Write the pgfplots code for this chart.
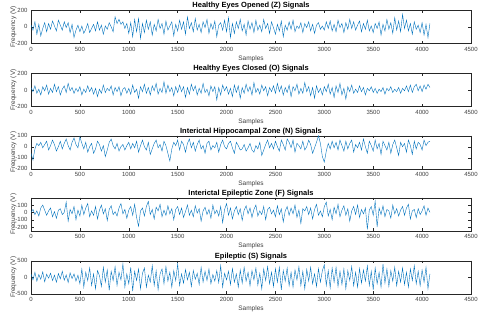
\documentclass[border=0pt]{standalone}
\usepackage{pgfplots}
\pgfplotsset{compat=1.18}
\usepackage{pgfplotstable}
\usepackage{fontspec}
\setmainfont{Liberation Sans}
\definecolor{mblue}{RGB}{0,114,189}
\definecolor{axgray}{RGB}{38,38,38}

\pgfplotstableread[row sep=\\,header=false]{
20\\-40\\60\\-90\\30\\-110\\-20\\50\\-60\\40\\-30\\70\\10\\-50\\80\\20\\-40\\60\\-10\\50\\-70\\30\\-130\\-40\\20\\
-60\\10\\-80\\-30\\40\\-70\\-20\\30\\-50\\60\\-40\\20\\-90\\10\\-30\\50\\0\\-60\\120\\40\\90\\30\\60\\-20\\40\\
-80\\50\\-120\\90\\-60\\100\\-140\\40\\-70\\80\\-30\\60\\-100\\30\\-50\\90\\-20\\40\\-90\\70\\-40\\10\\60\\-110\\30\\
-50\\80\\-30\\60\\-90\\120\\-20\\50\\-60\\100\\-40\\30\\-70\\60\\-10\\90\\-80\\40\\-30\\70\\-120\\20\\50\\-40\\80\\
-60\\110\\-130\\40\\-80\\60\\-20\\90\\-50\\30\\-100\\70\\-30\\50\\-70\\80\\-40\\20\\-60\\90\\-20\\40\\-80\\60\\-10\\
-90\\30\\-50\\70\\-120\\20\\-40\\60\\-30\\80\\-60\\10\\-20\\50\\-70\\40\\-10\\60\\-50\\30\\-80\\20\\50\\-30\\10\\
-40\\60\\-20\\70\\-50\\30\\-60\\80\\-10\\40\\-70\\50\\-30\\90\\-20\\60\\-40\\20\\70\\-60\\40\\-30\\80\\-50\\10\\
-70\\40\\-20\\60\\-100\\30\\-50\\90\\-30\\50\\-80\\110\\-40\\70\\-60\\150\\-20\\80\\-50\\40\\-90\\60\\-30\\20\\-70\\
50\\-100\\30\\-130\\40\\
}\Zdata

\pgfplotstableread[row sep=\\,header=false]{
30\\-20\\50\\-40\\10\\-60\\40\\-10\\60\\-50\\20\\-30\\70\\-20\\40\\-60\\10\\50\\-30\\80\\-10\\30\\-40\\20\\-20\\
40\\-60\\10\\-30\\50\\-20\\30\\-50\\20\\-80\\10\\-40\\60\\-30\\20\\-10\\50\\-60\\30\\-20\\40\\-70\\10\\30\\-40\\
20\\-50\\60\\-30\\10\\-100\\40\\-20\\70\\-40\\30\\-60\\50\\-10\\80\\-50\\20\\-30\\100\\-40\\60\\-20\\30\\-70\\40\\
-30\\60\\-20\\40\\-90\\30\\-50\\70\\-10\\50\\-60\\20\\-40\\80\\-30\\10\\-70\\50\\-20\\40\\-120\\30\\-60\\60\\-10\\
40\\-50\\20\\-80\\60\\-30\\50\\-100\\30\\-40\\70\\-20\\40\\-60\\90\\-30\\20\\-50\\60\\-10\\40\\-70\\30\\-20\\50\\
-40\\80\\-20\\50\\-60\\30\\-30\\60\\-80\\40\\-10\\70\\-50\\20\\-40\\90\\-20\\40\\-70\\30\\-100\\50\\-30\\20\\-60\\
40\\-20\\70\\-50\\30\\-90\\50\\-30\\80\\-60\\20\\-110\\40\\-20\\60\\-40\\10\\-30\\50\\-20\\30\\-60\\20\\-10\\40\\
-30\\20\\-40\\10\\-20\\30\\-50\\20\\-10\\40\\-30\\10\\-20\\30\\-40\\20\\-10\\50\\-20\\60\\-30\\40\\70\\-10\\50\\
-20\\60\\10\\70\\30\\
}\Odata

\pgfplotstableread[row sep=\\,header=false]{
-60\\-120\\-20\\30\\10\\40\\-10\\20\\50\\-30\\10\\60\\20\\-40\\0\\50\\-20\\30\\70\\10\\-30\\40\\80\\20\\-10\\
90\\30\\-20\\40\\-50\\0\\30\\-60\\-20\\50\\20\\-40\\10\\-90\\-30\\40\\70\\10\\-20\\30\\-40\\0\\20\\-30\\10\\
40\\-20\\30\\-10\\50\\-50\\10\\60\\0\\-30\\40\\-70\\-20\\30\\60\\-10\\20\\-40\\50\\10\\-60\\-130\\-20\\40\\10\\
60\\-30\\50\\20\\-50\\30\\70\\-10\\40\\-40\\20\\60\\-20\\10\\-60\\30\\50\\-30\\10\\-10\\40\\-50\\20\\60\\0\\
-20\\30\\50\\-10\\-60\\40\\10\\-30\\-20\\20\\-40\\-10\\30\\-30\\-50\\10\\-20\\40\\-80\\-30\\20\\60\\-10\\30\\-20\\
50\\0\\-40\\60\\20\\-30\\70\\40\\-10\\60\\-50\\30\\10\\-20\\50\\-30\\0\\60\\20\\-60\\-10\\40\\100\\30\\-90\\
-140\\-40\\30\\-20\\50\\-10\\40\\-30\\60\\10\\-40\\50\\-20\\30\\60\\-50\\20\\-10\\40\\-30\\70\\0\\-60\\50\\10\\
-40\\60\\-20\\30\\-70\\50\\10\\-30\\40\\-60\\20\\60\\-10\\-80\\40\\0\\30\\-50\\60\\10\\-70\\50\\-20\\40\\20\\
-30\\60\\10\\40\\50\\
}\Ndata

\pgfplotstableread[row sep=\\,header=false]{
0\\40\\-30\\20\\-50\\60\\100\\30\\-40\\20\\60\\-60\\10\\-80\\30\\50\\-30\\0\\140\\-120\\40\\-20\\80\\-100\\30\\
-50\\100\\-30\\60\\120\\-60\\20\\-40\\80\\-90\\30\\100\\-20\\50\\-110\\40\\90\\-30\\10\\-50\\60\\120\\-20\\40\\-80\\
30\\80\\-40\\110\\-70\\-190\\20\\60\\-50\\80\\150\\-30\\40\\-90\\70\\20\\110\\-60\\30\\-40\\90\\-20\\50\\-100\\40\\
80\\-30\\60\\-70\\10\\100\\-40\\30\\-60\\90\\-10\\50\\-120\\20\\70\\-30\\40\\-80\\100\\-20\\30\\-50\\80\\-140\\40\\
120\\-40\\60\\-90\\20\\80\\-30\\50\\-110\\30\\90\\-20\\60\\-70\\40\\100\\-50\\20\\-30\\80\\-100\\40\\70\\-20\\30\\
-60\\90\\-30\\50\\-130\\20\\80\\-40\\60\\-20\\100\\-70\\30\\-150\\50\\20\\80\\-30\\60\\-90\\40\\110\\-40\\20\\-60\\
80\\140\\-50\\40\\-100\\70\\-20\\110\\-60\\30\\90\\-40\\50\\-120\\20\\80\\-30\\100\\-70\\40\\-20\\60\\-230\\30\\80\\
-40\\150\\-200\\60\\-30\\90\\-60\\40\\20\\-80\\100\\-20\\50\\-50\\30\\80\\-40\\60\\110\\-90\\20\\40\\-70\\50\\-30\\
20\\90\\-40\\60\\0\\
}\Fdata

\pgfplotstableread[row sep=\\,header=false]{
100\\-80\\150\\-120\\80\\-60\\160\\-140\\90\\-30\\120\\-100\\60\\-150\\110\\-50\\180\\-90\\70\\-160\\130\\-40\\100\\-120\\60\\
-200\\250\\-300\\150\\-100\\280\\-250\\100\\-350\\200\\50\\-280\\300\\-150\\220\\-400\\180\\-100\\320\\-250\\150\\-80\\400\\-300\\100\\
-200\\300\\-420\\180\\-100\\250\\-350\\120\\280\\-300\\60\\-150\\350\\-250\\200\\-380\\100\\250\\-200\\320\\-120\\150\\-300\\200\\-100\\
400\\-250\\100\\-180\\230\\-80\\150\\-280\\200\\-60\\120\\-220\\300\\-150\\180\\-100\\250\\-200\\80\\-120\\200\\-160\\350\\-300\\120\\
-80\\180\\-220\\260\\-150\\100\\-300\\220\\-180\\300\\-120\\150\\-260\\200\\-80\\280\\-240\\120\\-350\\250\\-100\\320\\-200\\150\\-280\\
260\\-150\\300\\-380\\200\\-120\\280\\-260\\150\\-300\\220\\-80\\320\\-250\\180\\-350\\240\\-120\\300\\-200\\100\\-280\\260\\-150\\200\\
380\\-250\\200\\-320\\280\\-150\\300\\-280\\180\\-220\\250\\-350\\200\\-100\\320\\-260\\150\\-300\\260\\-180\\220\\-120\\340\\-250\\180\\
-380\\280\\-200\\150\\-300\\400\\-180\\250\\-280\\200\\-120\\300\\-260\\180\\-150\\280\\-220\\150\\-300\\250\\-100\\350\\-200\\180\\-260\\
220\\-150\\300\\-350\\100\\
}\Sdata

\pgfplotsset{
  sig/.style={
    scale only axis, width=440pt, height=33pt, anchor=north west,
    xmin=0, xmax=4500, xtick={0,500,...,4500},
    axis line style={axgray, line width=0.4pt},
    tick style={axgray, line width=0.4pt},
    major tick length=2.5pt,
    tick align=inside,
    tick label style={font=\fontsize{6}{6.5}\selectfont, text=black!75},
    /pgf/number format/assume math mode=true,
    /pgf/number format/1000 sep={},
    scaled ticks=false,
    xlabel={Samples}, ylabel={Frequency (V)},
    label style={font=\fontsize{6.5}{7}\selectfont, text=black!75},
    xlabel style={yshift=2.5pt},
    ylabel style={yshift=-8pt},
    title style={font=\bfseries\fontsize{7.5}{8}\selectfont, yshift=-8.5pt},
    cycle list={{mblue, line width=0.5pt, mark=none}},
  }
}

\begin{document}
\begin{tikzpicture}[x=1pt,y=1pt]
\useasboundingbox (0,0) rectangle (480,314);
\begin{axis}[sig, at={(31pt,303.7pt)}, ymin=-200, ymax=200, ytick={-200,0,200},
  title={Healthy Eyes Opened (Z) Signals}]
\addplot table[x expr=\coordindex*20, y index=0] {\Zdata};
\end{axis}
\begin{axis}[sig, at={(31pt,240.5pt)}, ymin=-200, ymax=200, ytick={-200,0,200},
  title={Healthy Eyes Closed (O) Signals}]
\addplot table[x expr=\coordindex*20, y index=0] {\Odata};
\end{axis}
\begin{axis}[sig, at={(31pt,178.3pt)}, ymin=-200, ymax=100, ytick={-200,-100,0,100},
  title={Interictal Hippocampal Zone (N) Signals}]
\addplot table[x expr=\coordindex*20, y index=0] {\Ndata};
\end{axis}
\begin{axis}[sig, at={(31pt,116.3pt)}, ymin=-250, ymax=200, ytick={-200,-100,0,100},
  title={Interictal Epileptic Zone (F) Signals}]
\addplot table[x expr=\coordindex*20, y index=0] {\Fdata};
\end{axis}
\begin{axis}[sig, at={(31pt,53.3pt)}, ymin=-500, ymax=500, ytick={-500,0,500},
  title={Epileptic (S) Signals}]
\addplot table[x expr=\coordindex*20, y index=0] {\Sdata};
\end{axis}
\end{tikzpicture}
\end{document}
